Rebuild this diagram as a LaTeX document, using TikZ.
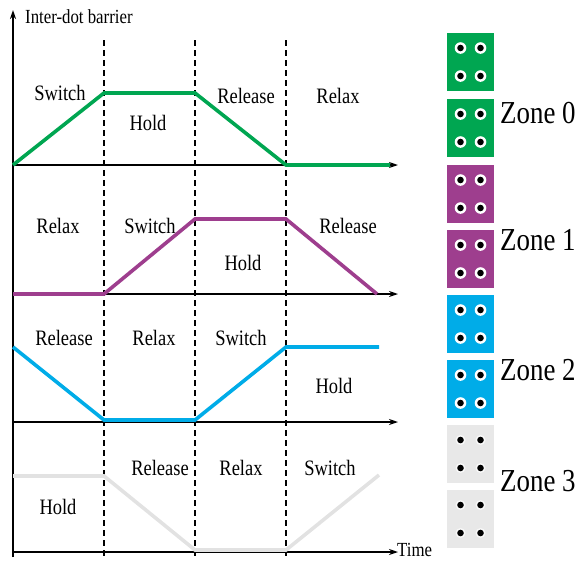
\documentclass[tikz,border=0pt]{standalone}
\usepackage{fontspec}
\setmainfont{Liberation Serif}
\newfontfamily\lblfont[FakeStretch=0.84]{Liberation Serif}
\usetikzlibrary{arrows.meta,calc}
\definecolor{zgreen}{RGB}{0,166,81}
\definecolor{zpurple}{RGB}{158,62,142}
\definecolor{zblue}{RGB}{0,172,232}
\definecolor{zgrey}{RGB}{226,226,226}
\definecolor{zgreyblk}{RGB}{232,232,232}
\tikzset{
  axisline/.style={line width=1.8pt,-{Stealth[length=9pt,width=6pt]}},
  phasesep/.style={line width=1.3pt,dash pattern=on 6pt off 4pt},
  curve/.style={line width=3.6pt,line join=miter},
  phase/.style={font=\lblfont\fontsize{22}{24}\selectfont,anchor=base,inner sep=0pt},
  axislabel/.style={font=\lblfont\fontsize{20}{22}\selectfont,inner sep=0pt},
  zonelabel/.style={font=\lblfont\fontsize{32}{34}\selectfont,anchor=west,inner sep=0pt},
  block/.style={minimum width=47pt,minimum height=58pt,inner sep=0pt,draw=none},
}
\begin{document}
\begin{tikzpicture}[x=1pt,y=-1pt]
\useasboundingbox (0,0) rectangle (575,560);

% time axes of the four zones
\coordinate (o) at (13,557);
\coordinate (top) at (13,10);
\draw[axisline] (o) -- (top);
\foreach \yy in {165,294,422,552}{
  \draw[axisline] (13,\yy) -- (398,\yy);
}

% phase boundaries
\foreach \xx in {104,195,286}{
  \draw[phasesep] (\xx,40) -- (\xx,556);
}

\node[axislabel,anchor=west] (ylab) at (25,17) {Inter-dot barrier};
\node[axislabel,anchor=base west] (xlab) at (397,556) {Time};

% zone 0
\draw[curve,zgreen] (13,165) -- (104,93) -- (195,93) -- (286,165) -- (390,165);
\node[phase] (s0) at (60,100) {Switch};
\node[phase] (h0) at (148,130) {Hold};
\node[phase] (r0) at (246,103) {Release};
\node[phase] (x0) at (338,103) {Relax};

% zone 1
\draw[curve,zpurple] (13,294) -- (104,294) -- (195,219) -- (286,219) -- (377,294);
\node[phase] (x1) at (58,233) {Relax};
\node[phase] (s1) at (150,233) {Switch};
\node[phase] (h1) at (243,270) {Hold};
\node[phase] (r1) at (348,233) {Release};

% zone 2
\draw[curve,zblue] (13,347) -- (104,420) -- (195,420) -- (286,347) -- (379,347);
\node[phase] (r2) at (64,345) {Release};
\node[phase] (x2) at (154,345) {Relax};
\node[phase] (s2) at (241,345) {Switch};
\node[phase] (h2) at (334,393) {Hold};

% zone 3
\draw[curve,zgrey] (13,476) -- (104,476) -- (195,550) -- (286,550) -- (379,475);
\node[phase] (h3) at (58,514) {Hold};
\node[phase] (r3) at (160,475) {Release};
\node[phase] (x3) at (241,475) {Relax};
\node[phase] (s3) at (330,475) {Switch};

% dot arrays, two per zone
\foreach \col/\top/\name in {zgreen/33/a0,zgreen/99/b0,zpurple/165/a1,zpurple/230/b1,zblue/295/a2,zblue/360/b2}{
  \node[block,fill=\col,anchor=north] (\name) at (470.5,\top) {};
  \foreach \dx in {-10,10}{
    \foreach \dy in {15,43}{
      \fill[white] ($(\name.north)+(\dx,\dy)$) circle (5.8pt);
      \fill[black] ($(\name.north)+(\dx,\dy)$) circle (3.3pt);
    }
  }
}
\foreach \top/\name in {425/a3,490/b3}{
  \node[block,fill=zgreyblk,anchor=north] (\name) at (470.5,\top) {};
  \foreach \dx in {-10,10}{
    \foreach \dy in {15,43}{
      \fill[white,opacity=0.7] ($(\name.north)+(\dx,\dy)$) circle (5pt);
      \fill[black] ($(\name.north)+(\dx,\dy)$) circle (3.3pt);
    }
  }
}

\node[zonelabel] (z0) at (500,113) {Zone 0};
\node[zonelabel] (z1) at (500,240) {Zone 1};
\node[zonelabel] (z2) at (500,370) {Zone 2};
\node[zonelabel] (z3) at (500,481) {Zone 3};
\end{tikzpicture}
\end{document}
